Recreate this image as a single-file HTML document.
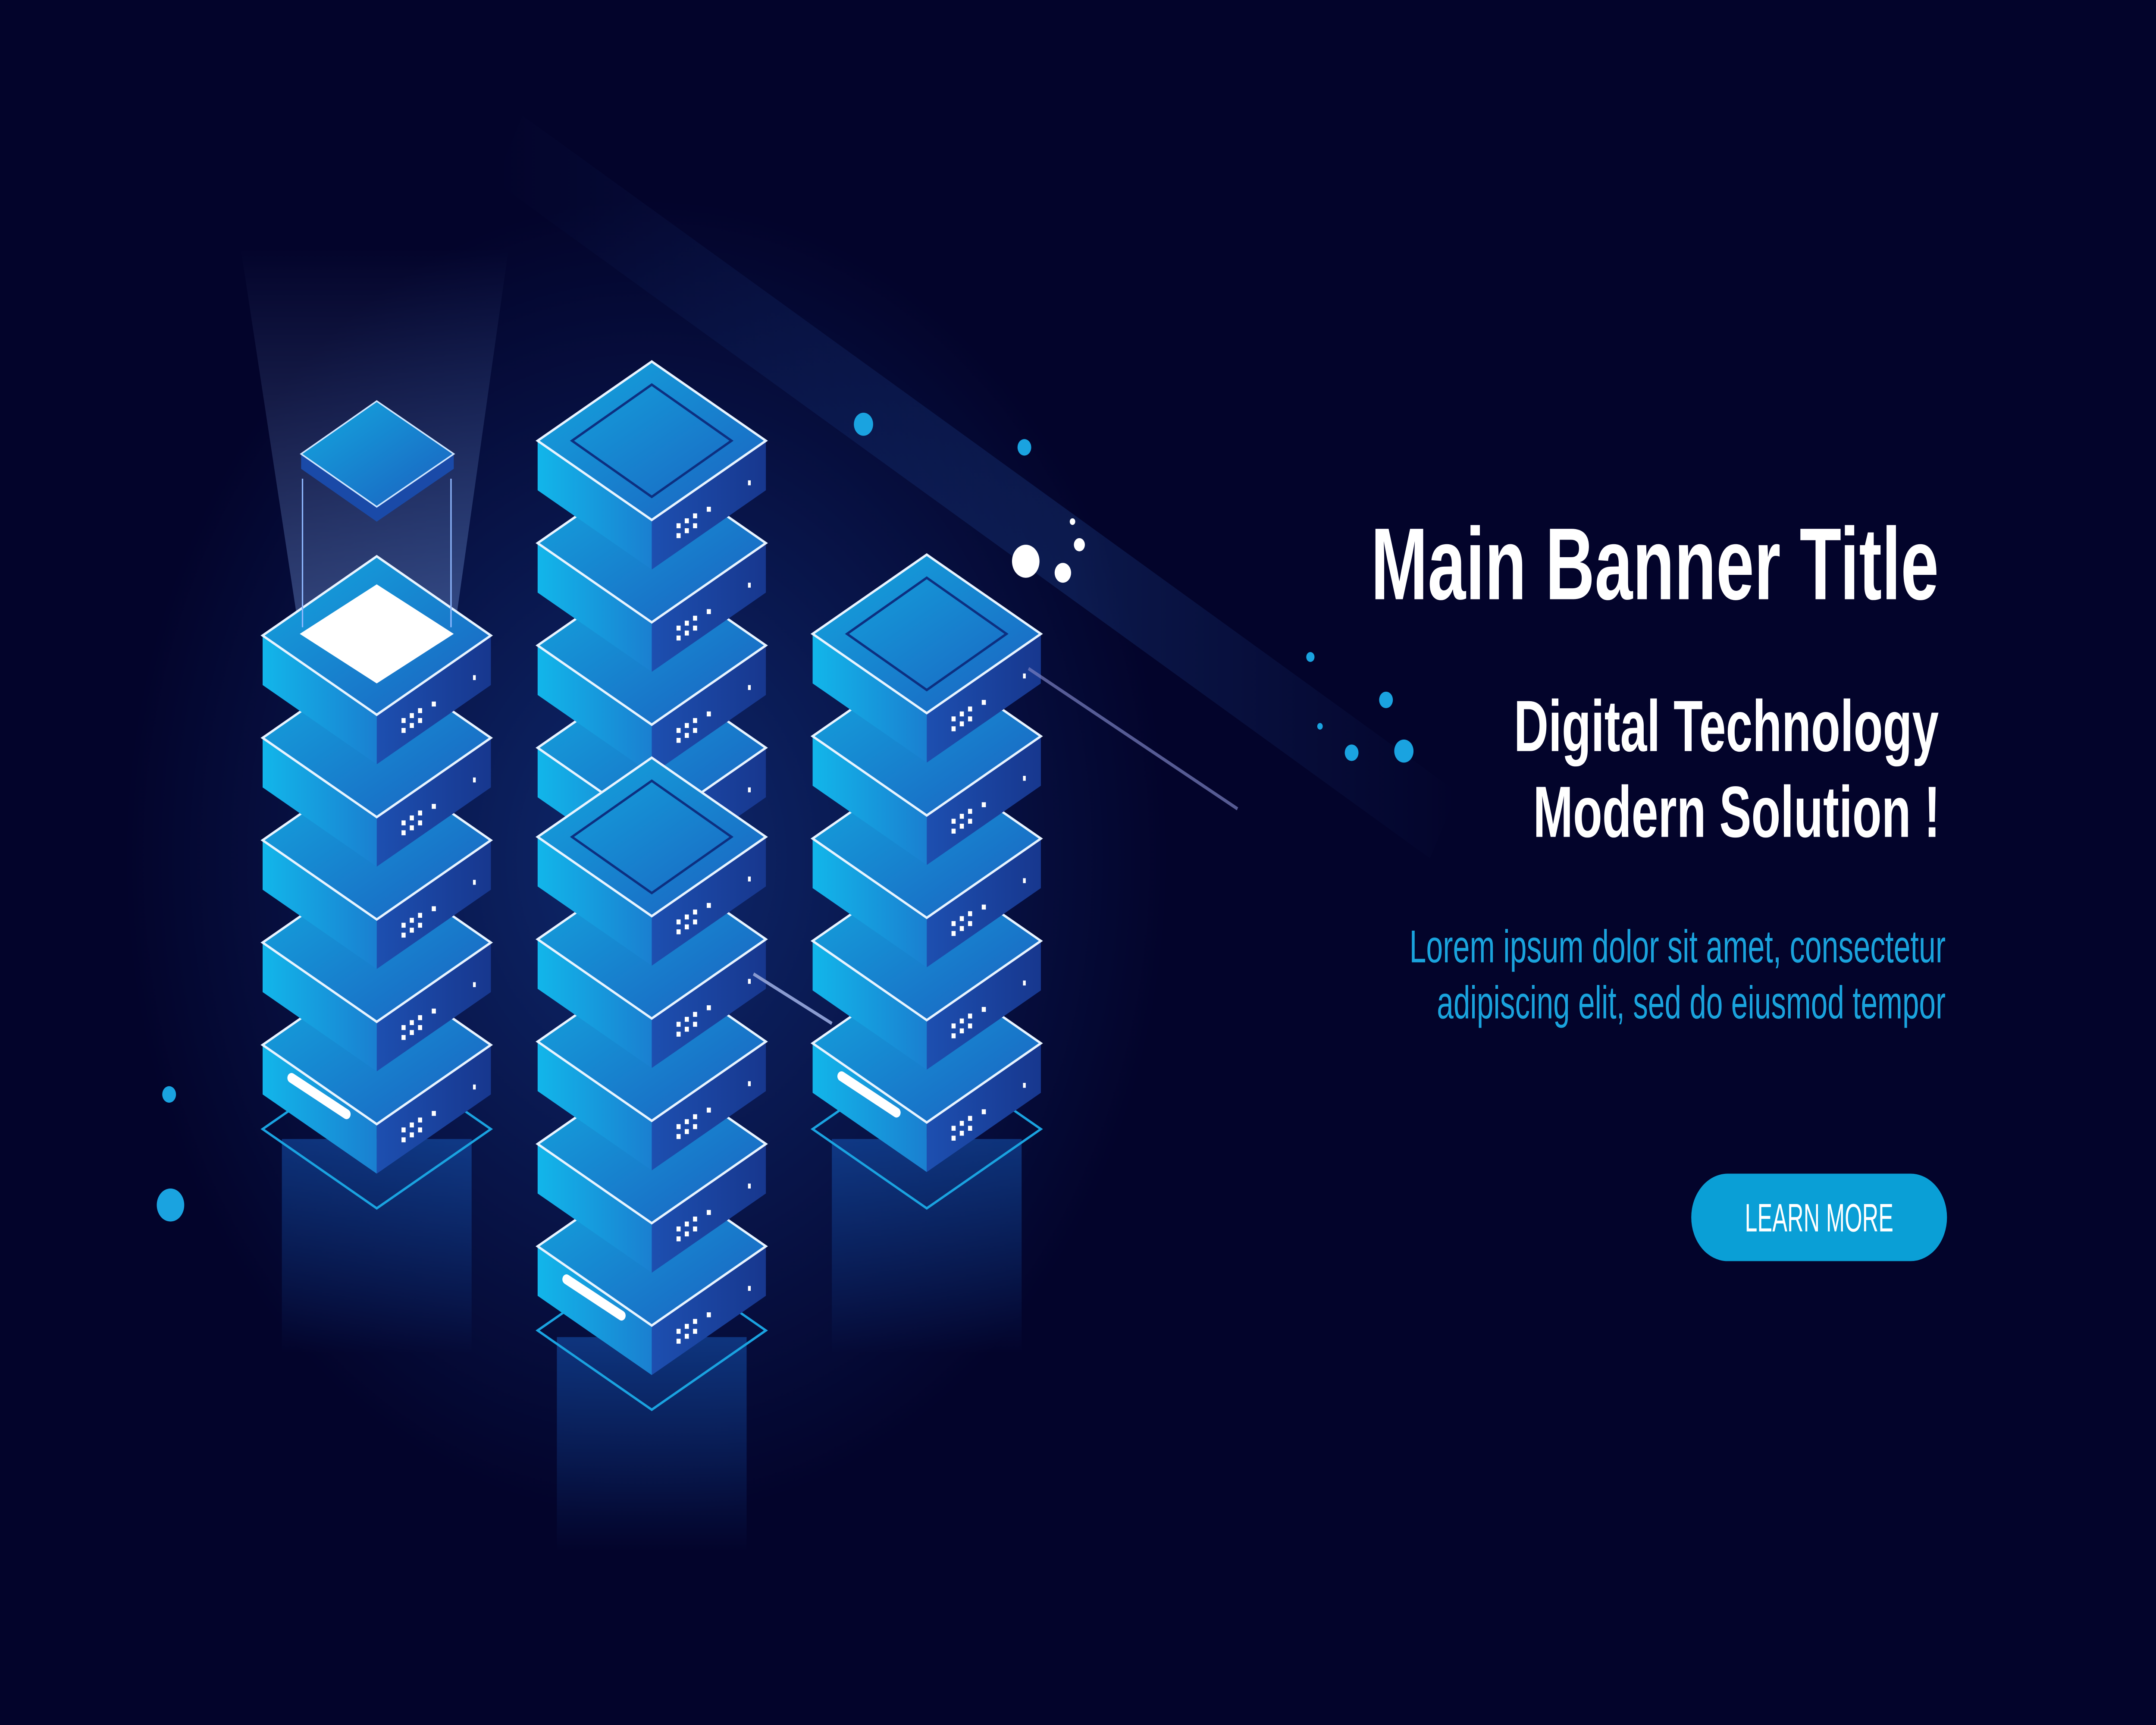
<!DOCTYPE html>
<html><head><meta charset="utf-8"><style>
html,body{margin:0;padding:0;background:#03042b;width:100%;height:100%;overflow:hidden;}
svg{display:block;position:absolute;left:0;top:0;width:100vw;height:100vh;}
</style></head><body>
<svg viewBox="0 0 1568 1045" xmlns="http://www.w3.org/2000/svg" preserveAspectRatio="none">
<defs>
<linearGradient id="lf" x1="0" y1="0" x2="1" y2="0"><stop offset="0" stop-color="#12b6ea"/><stop offset="1" stop-color="#1a7fd0"/></linearGradient>
<linearGradient id="rf" x1="0" y1="0" x2="1" y2="0"><stop offset="0" stop-color="#1d4fb0"/><stop offset="1" stop-color="#17378e"/></linearGradient>
<linearGradient id="tf" x1="0" y1="0" x2="1" y2="1"><stop offset="0" stop-color="#13a8df"/><stop offset="1" stop-color="#1b5fbf"/></linearGradient>
<radialGradient id="glow" cx="0.5" cy="0.5" r="0.5"><stop offset="0" stop-color="#1f5fd0" stop-opacity="0.4"/><stop offset="1" stop-color="#1f5fd0" stop-opacity="0"/></radialGradient>
<linearGradient id="beam" x1="0" y1="0" x2="1" y2="0"><stop offset="0" stop-color="#3a8bff" stop-opacity="0"/><stop offset="0.6" stop-color="#3a8bff" stop-opacity="0.25"/><stop offset="1" stop-color="#3a8bff" stop-opacity="0"/></linearGradient>
<linearGradient id="up" x1="0" y1="1" x2="0" y2="0"><stop offset="0" stop-color="#8fb8ff" stop-opacity="0.55"/><stop offset="1" stop-color="#8fb8ff" stop-opacity="0"/></linearGradient>
<linearGradient id="down" x1="0" y1="0" x2="0" y2="1"><stop offset="0" stop-color="#1a6fe0" stop-opacity="0.4"/><stop offset="1" stop-color="#1a6fe0" stop-opacity="0"/></linearGradient>
<g id="blk">
<path d="M-83,0 L0,48 L0,78 L-83,30 Z" fill="url(#lf)"/>
<path d="M0,48 L83,0 L83,30 L0,78 Z" fill="url(#rf)"/>
<path d="M0,-48 L83,0 L0,48 L-83,0 Z" fill="url(#tf)" stroke="#e8f4ff" stroke-width="1.5"/>
<g fill="#ffffff"><rect x="18" y="50" width="3" height="3"/><rect x="24" y="47" width="3" height="3"/><rect x="30" y="44" width="3" height="3"/><rect x="18" y="56" width="3" height="3"/><rect x="24" y="53" width="3" height="3"/><rect x="30" y="50" width="3" height="3"/><rect x="40" y="40" width="3" height="3"/><rect x="70" y="24" width="2" height="3"/></g>
</g>
<g id="blkt">
<use href="#blk"/>
<path d="M0,-34 L58,0 L0,34 L-58,0 Z" fill="none" stroke="#0d2f80" stroke-width="1.5"/>
</g>
<g id="blkb">
<use href="#blk"/>
<path d="M-62,20 L-22,42" stroke="#ffffff" stroke-width="6" stroke-linecap="round"/>
</g>
</defs>
<rect width="1568" height="1045" fill="#03042b"/>
<ellipse cx="470" cy="520" rx="380" ry="400" fill="url(#glow)"/>
<path d="M380,70 L1060,480 L1040,520 L360,110 Z" fill="url(#beam)" opacity="0.6"/>
<rect x="205" y="690" width="138" height="130" fill="url(#down)"/>
<rect x="405" y="810" width="138" height="130" fill="url(#down)"/>
<rect x="605" y="690" width="138" height="130" fill="url(#down)"/>
<path d="M175,150 L370,150 L330,385 L218,385 Z" fill="url(#up)" opacity="0.6"/>
<path d="M191,684 L274,732 L357,684 L274,636 Z" fill="none" stroke="#1aa3e0" stroke-width="1.5"/>
<path d="M391,806 L474,854 L557,806 L474,758 Z" fill="none" stroke="#1aa3e0" stroke-width="1.5"/>
<path d="M591,684 L674,732 L757,684 L674,636 Z" fill="none" stroke="#1aa3e0" stroke-width="1.5"/>
<use href="#blkb" x="274" y="633"/>
<use href="#blk" x="274" y="571"/>
<use href="#blk" x="274" y="509"/>
<use href="#blk" x="274" y="447"/>
<use href="#blk" x="274" y="385"/>
<path d="M274,354 L330,384 L274,414 L218,384 Z" fill="#ffffff"/>
<line x1="220" y1="290" x2="220" y2="380" stroke="#8fb8ff" stroke-width="1"/>
<line x1="328" y1="290" x2="328" y2="380" stroke="#8fb8ff" stroke-width="1"/>
<path d="M219,275 L219,284 L274,316 L330,284 L330,275 Z" fill="#1a4aa8"/>
<path d="M274,243 L330,275 L274,307 L219,275 Z" fill="url(#tf)" stroke="#cfe6ff" stroke-width="1"/>
<use href="#blkb" x="474" y="755"/>
<use href="#blk" x="474" y="693"/>
<use href="#blk" x="474" y="631"/>
<use href="#blk" x="474" y="569"/>
<use href="#blk" x="474" y="453"/>
<use href="#blk" x="474" y="391"/>
<use href="#blk" x="474" y="329"/>
<use href="#blkt" x="474" y="267"/>
<use href="#blkt" x="474" y="507"/>
<use href="#blkb" x="674" y="632"/>
<use href="#blk" x="674" y="570"/>
<use href="#blk" x="674" y="508"/>
<use href="#blk" x="674" y="446"/>
<use href="#blkt" x="674" y="384"/>
<line x1="548" y1="590" x2="605" y2="620" stroke="#8a9bd0" stroke-width="2"/>
<line x1="748" y1="405" x2="900" y2="490" stroke="#7a80c0" stroke-width="2" opacity="0.7"/>
<g fill="#1aa3e0"><circle cx="628" cy="257" r="7"/><circle cx="745" cy="271" r="5"/><circle cx="123" cy="663" r="5"/><circle cx="124" cy="730" r="10"/><circle cx="953" cy="398" r="3"/><circle cx="1008" cy="424" r="5"/><circle cx="983" cy="456" r="5"/><circle cx="1021" cy="455" r="7"/><circle cx="960" cy="440" r="2"/></g>
<g fill="#ffffff"><circle cx="746" cy="340" r="10"/><circle cx="773" cy="347" r="6"/><circle cx="785" cy="330" r="4"/><circle cx="780" cy="316" r="2"/></g>
<g font-family="'Liberation Sans Narrow','Liberation Sans',sans-serif" font-weight="bold" fill="#ffffff">
<text x="997" y="363" font-size="62" textLength="413" lengthAdjust="spacingAndGlyphs">Main Banner Title</text>
<text x="1101" y="455" font-size="44" textLength="309" lengthAdjust="spacingAndGlyphs">Digital Technology</text>
<text x="1115" y="507" font-size="44" textLength="296" lengthAdjust="spacingAndGlyphs">Modern Solution !</text>
</g>
<g font-family="'Liberation Sans Narrow','Liberation Sans',sans-serif" fill="#1aa3dd">
<text x="1025" y="583" font-size="28" textLength="390" lengthAdjust="spacingAndGlyphs">Lorem ipsum dolor sit amet, consectetur</text>
<text x="1045" y="617" font-size="28" textLength="370" lengthAdjust="spacingAndGlyphs">adipiscing elit, sed do eiusmod tempor</text>
</g>
<rect x="1230" y="711" width="186" height="53" rx="26.5" fill="#0a9fd6"/>
<text x="1269" y="746" font-family="'Liberation Sans Narrow','Liberation Sans',sans-serif" font-size="24" fill="#ffffff" textLength="108" lengthAdjust="spacingAndGlyphs">LEARN MORE</text>
</svg>
</body></html>
